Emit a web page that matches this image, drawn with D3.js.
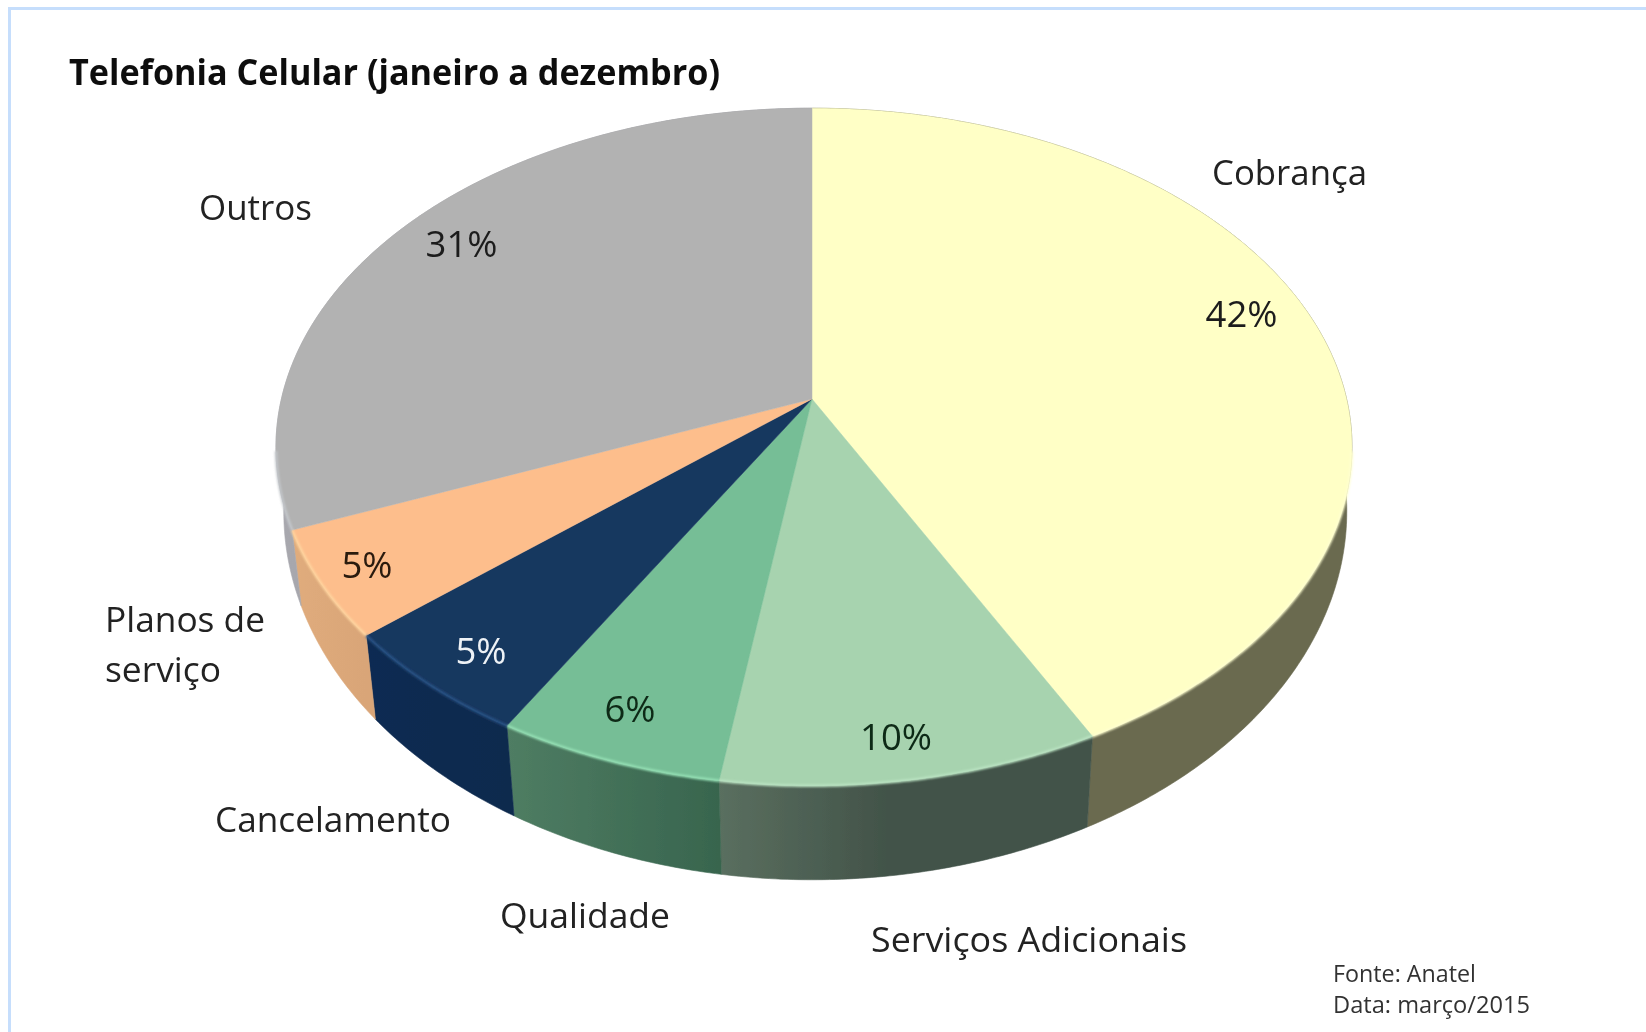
<!DOCTYPE html>
<html><head><meta charset="utf-8">
<script src="https://cdnjs.cloudflare.com/ajax/libs/d3/7.8.5/d3.min.js"></script>
<style>html,body{margin:0;padding:0;background:#fff;overflow:hidden}svg{display:block}</style>
</head><body><svg id="c" width="1646" height="1032"></svg>
<script>
// Data
const categories = ["Cobrança","Serviços Adicionais","Qualidade","Cancelamento","Planos de serviço","Outros"];
const values = [42.4,10.0,6.0,5.4,5.1,31.1];
const title = "Telefonia Celular (janeiro a dezembro)";
const sourceLines = ["Fonte: Anatel","Data: março/2015"];
// Styles
const topColors  = ["#FFFFC6","#A7D3AF","#76BE96","#17375F","#FDBE8C","#B2B2B2"];
const rimColors  = ["#FFFFD0","#BCE5C4","#98E4B8","#2A5488","#FFD6A0","#C4C8CC"];
const wallFrom   = ["#6A6A50","#5A6F5F","#4F7D63","#102C52","#E0AC7C","#A8A8AE"];
const wallTo     = ["#6A6A50","#425349","#38654E","#0E2A4E","#D9A578","#8E8E96"];
const wallStop   = [1,0.45,1,1,1,1];
// Layout
const W=1646,H=1032, cx=812, cy=399, a=532.6, b=332, k=-0.1416, xShift=2;
const nameLabels = [
 {lines:[{t:"Cobrança",x:1212,y:185,w:155}]},
 {lines:[{t:"Serviços Adicionais",x:871,y:952,w:316}]},
 {lines:[{t:"Qualidade",x:500,y:928,w:170}]},
 {lines:[{t:"Cancelamento",x:215,y:832,w:236}]},
 {lines:[{t:"Planos de",x:105,y:632,w:160},{t:"serviço",x:105,y:682,w:116}]},
 {lines:[{t:"Outros",x:199,y:220,w:113}]}
];
const pctPos = [[1241.5,327],[896,750],[630,722],[481,664],[367,578],[461.5,257]];
const pctCol = ["#1c1c1c","#0f2a18","#0f2a18","#eef2f6","#2a1a10","#1c1c1c"];

const svg = d3.select("#c");
const defs = svg.append("defs");
defs.append("filter").attr("id","soft").attr("x","-5%").attr("y","-5%").attr("width","110%").attr("height","110%")
  .append("feGaussianBlur").attr("stdDeviation",0.7);
defs.append("filter").attr("id","rim").attr("filterUnits","userSpaceOnUse").attr("x",0).attr("y",0).attr("width",W).attr("height",H)
  .append("feGaussianBlur").attr("stdDeviation",1.1);

// frame
svg.append("path").attr("d",`M9.5,${H} V8.5 H${W}`).attr("fill","none").attr("stroke","#C6DEFC").attr("stroke-width",3);

const pie = d3.pie().sort(null).value(d=>d).startAngle(0).endAngle(2*Math.PI);
const arcs = pie(values);

function proj(th){ const u=Math.sin(th), v=-Math.cos(th), d=1+k*v; return [a*u/d + xShift*(1-v*v), b*v/d, v]; }
function rimPts(s,e){ const n=Math.max(8,Math.ceil((e-s)/0.01)); return d3.range(n+1).map(i=>proj(s+(e-s)*i/n)); }
const line = d3.line().x(d=>cx+d[0]).y(d=>cy+d[1]);
// lower edge of the disc: perspective makes it a little narrower and shifts its centre less than the front drop
const base = p=>{ const v=p[2], s=p[0]<0?0.987:0.992; return [p[0]*(s-0.012*Math.max(v,0)), p[1]+65+29*v, v]; };

const g = svg.append("g").attr("filter","url(#soft)");
// walls
arcs.forEach((d,i)=>{
  const rim = rimPts(d.startAngle,d.endAngle);
  const xs = rim.map(p=>p[0]);
  const id="w"+i;
  const lg = defs.append("linearGradient").attr("id",id).attr("gradientUnits","userSpaceOnUse")
    .attr("x1",cx+d3.min(xs)).attr("x2",cx+d3.max(xs)).attr("y1",0).attr("y2",0);
  lg.append("stop").attr("offset",0).attr("stop-color",wallFrom[i]);
  lg.append("stop").attr("offset",wallStop[i]).attr("stop-color",wallTo[i]);
  g.append("path").attr("d",line(rim.concat(rim.slice().reverse().map(base)))+"Z")
    .attr("fill",`url(#${id})`).attr("stroke",`url(#${id})`).attr("stroke-width",0.6);
});
// top faces
arcs.forEach((d,i)=>{
  const rim = rimPts(d.startAngle,d.endAngle);
  g.append("path").attr("d",line([[0,0]].concat(rim))+"Z").attr("fill",topColors[i])
   .attr("stroke",topColors[i]).attr("stroke-width",0.5);
});
// rim highlight on the front of the disc only
arcs.forEach((d,i)=>{
  const rim = rimPts(d.startAngle,d.endAngle).filter(p=>p[2]>0.15);
  if(rim.length<2) return;
  g.append("path").attr("d",line(rim)).attr("fill","none").attr("stroke",rimColors[i]).attr("stroke-width",2.5).attr("filter","url(#rim)");
});

const font = "'Open Sans','Noto Sans',sans-serif";
const t = svg.append("g").attr("font-family",font).attr("filter","url(#soft)");
t.append("text").text(title).attr("x",69).attr("y",85).attr("font-size",35).attr("font-weight",700).attr("fill","#111")
  .attr("textLength",651).attr("lengthAdjust","spacingAndGlyphs");
nameLabels.forEach(l=>l.lines.forEach(o=>{
  t.append("text").text(o.t).attr("x",o.x).attr("y",o.y).attr("font-size",35).attr("fill","#222")
   .attr("textLength",o.w).attr("lengthAdjust","spacingAndGlyphs");
}));
arcs.forEach((d,i)=>{
  t.append("text").text(Math.round(values[i])+"%").attr("x",pctPos[i][0]).attr("y",pctPos[i][1]).attr("text-anchor","middle")
   .attr("font-size",36.5).attr("fill",pctCol[i]);
});
t.append("text").text(sourceLines[0]).attr("x",1333).attr("y",982).attr("font-size",23).attr("fill","#333").attr("textLength",143).attr("lengthAdjust","spacingAndGlyphs");
t.append("text").text(sourceLines[1]).attr("x",1333).attr("y",1013).attr("font-size",23).attr("fill","#333").attr("textLength",197).attr("lengthAdjust","spacingAndGlyphs");
</script></body></html>
